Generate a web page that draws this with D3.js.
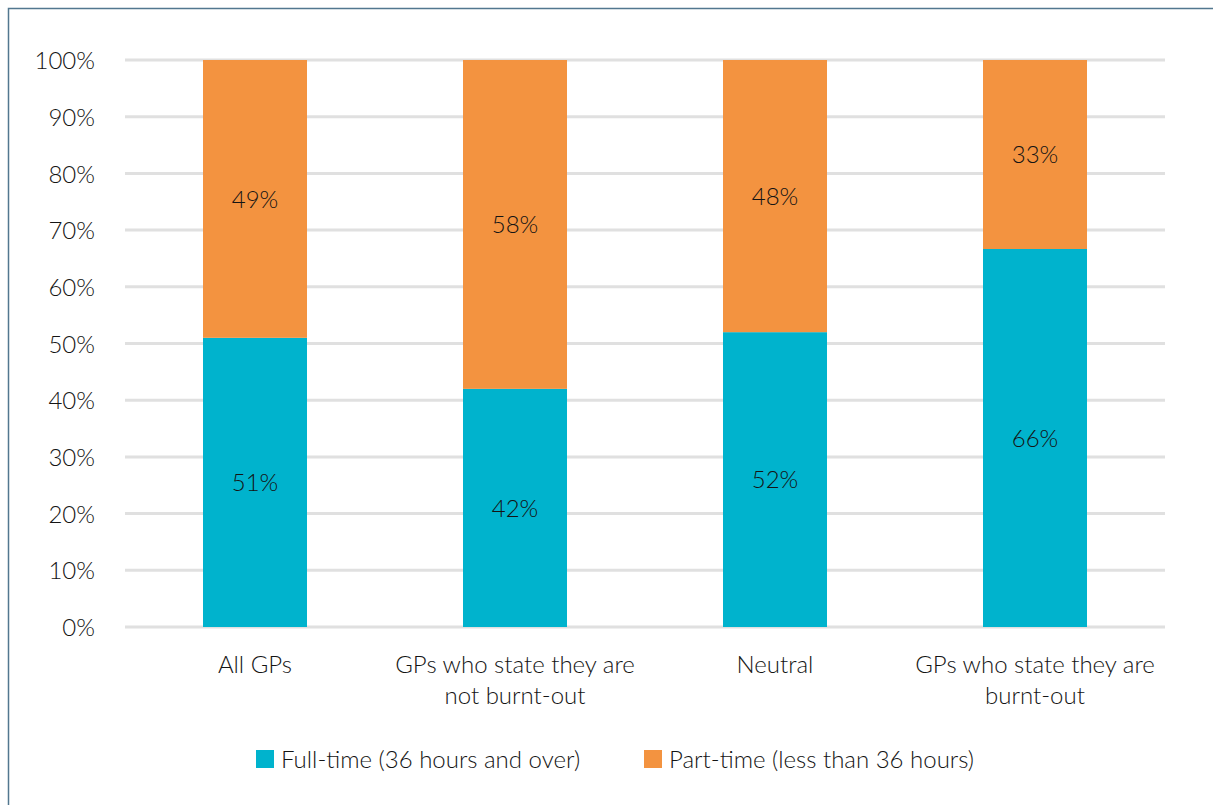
<!DOCTYPE html>
<html><head><meta charset="utf-8">
<script src="https://cdn.jsdelivr.net/npm/d3@7"></script>
<style>
html,body{margin:0;padding:0;background:#fff;}
svg{display:block;}
text{font-family:Lato, "Open Sans", sans-serif;font-weight:300;fill:#141414;}
</style></head>
<body>
<svg id="chart" width="1213" height="805"></svg>
<script>
const categories = [["All GPs"], ["GPs who state they are", "not burnt-out"], ["Neutral"], ["GPs who state they are", "burnt-out"]];
const seriesNames = ["Full-time (36 hours and over)", "Part-time (less than 36 hours)"];
const fullTime = [51, 42, 52, 66];
const partTime = [49, 58, 48, 33];
const yTicks = [0, 10, 20, 30, 40, 50, 60, 70, 80, 90, 100];
const colors = ["#00B3CD", "#F39340"];

const svg = d3.select("#chart");
const W = 1213, H = 805;
const m = {left: 125, right: 48, top: 60, bottom: 178};
const FS = 24;

// frame
svg.append("path").attr("d", `M8.5,${H} L8.5,8.5 L${W},8.5`)
  .attr("fill", "none").attr("stroke", "#52778f").attr("stroke-width", 1.5);

const x = d3.scaleBand().domain(d3.range(categories.length))
  .range([m.left, W - m.right]).paddingInner(0.6).paddingOuter(0.3);
const y = d3.scaleLinear().domain([0, 100]).range([H - m.bottom, m.top]);

// gridlines
svg.append("g").selectAll("line").data(yTicks).join("line")
  .attr("x1", m.left).attr("x2", W - m.right)
  .attr("y1", d => y(d)).attr("y2", d => y(d))
  .attr("stroke", "#e0e0e0").attr("stroke-width", 3);

// y axis labels
const yAxis = d3.axisLeft(y).tickValues(yTicks).tickFormat(d => d + "%").tickSize(0).tickPadding(30);
const ga = svg.append("g").attr("transform", `translate(${m.left},0)`).call(yAxis);
ga.select(".domain").remove();
ga.selectAll("text").attr("font-size", FS).attr("font-family", "Lato").attr("font-weight", 300).attr("fill", "#141414").attr("dy", "0.36em");

// stacked data (100% stacked)
const rows = categories.map((c, i) => ({i, a: fullTime[i], b: partTime[i]}));
const stack = d3.stack().keys(["a", "b"]).offset(d3.stackOffsetExpand);
const stacked = stack(rows);
const raw = [fullTime, partTime];

stacked.forEach((s, si) => {
  const g = svg.append("g");
  g.selectAll("rect").data(s).join("rect")
    .attr("x", (d, i) => x(i))
    .attr("width", x.bandwidth())
    .attr("y", d => y(d[1] * 100))
    .attr("height", d => y(d[0] * 100) - y(d[1] * 100))
    .attr("fill", colors[si]);
  g.selectAll("text").data(s).join("text")
    .attr("x", (d, i) => x(i) + x.bandwidth() / 2)
    .attr("y", d => y((d[0] + d[1]) / 2 * 100))
    .attr("dy", "0.36em")
    .attr("text-anchor", "middle")
    .attr("font-size", FS)
    .text((d, i) => raw[si][i] + "%");
});

// category labels
const gc = svg.append("g");
categories.forEach((lines, i) => {
  const cx = x(i) + x.bandwidth() / 2;
  lines.forEach((l, k) => gc.append("text").attr("text-anchor", "middle").attr("font-size", FS)
    .attr("x", cx).attr("y", 664 + k * 31).attr("dy", "0.36em").text(l));
});

// legend
const legendX = [256, 644];
const gl = svg.append("g");
seriesNames.forEach((n, i) => {
  gl.append("rect").attr("x", legendX[i]).attr("y", 750).attr("width", 18).attr("height", 18).attr("fill", colors[i]);
  gl.append("text").attr("x", legendX[i] + 25).attr("y", 759).attr("dy", "0.36em").attr("font-size", FS).text(n);
});
</script>
</body></html>
